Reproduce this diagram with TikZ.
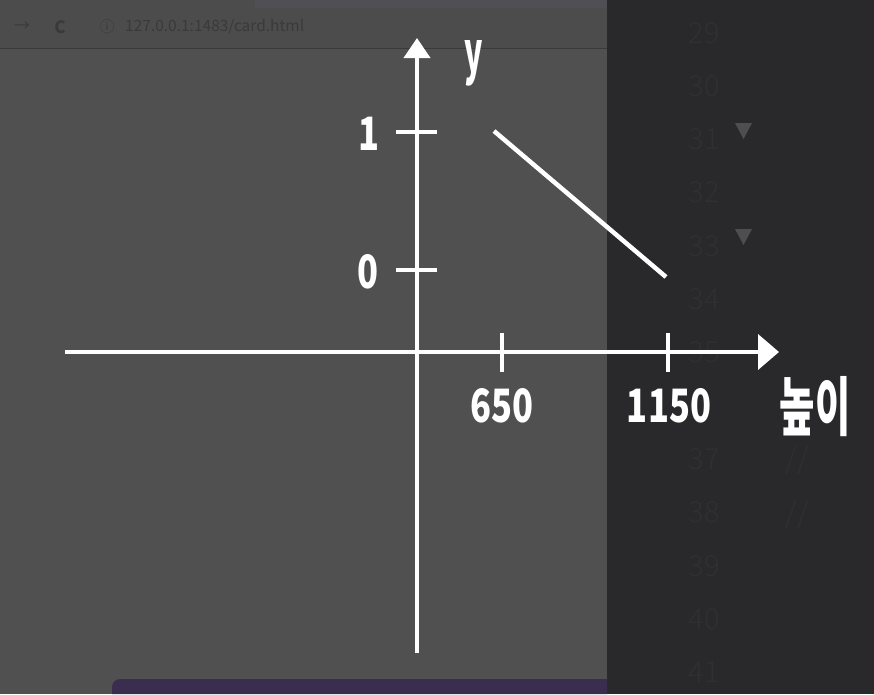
\documentclass[tikz,border=0pt]{standalone}
\usepackage{fontspec}
\setmainfont{Noto Sans CJK KR}
\IfFontExistsTF{Noto Sans CJK KR Light}
  {\newfontfamily\thinfont{Noto Sans CJK KR Light}}
  {\newcommand\thinfont{}}
\usetikzlibrary{arrows.meta}
\definecolor{pagegray}{HTML}{505050}
\definecolor{editorbg}{HTML}{29282B}
\definecolor{browserbar}{HTML}{4C4C4C}
\definecolor{tabstrip}{HTML}{4F4F55}
\definecolor{dimtext}{HTML}{3A3A3A}
\definecolor{linenum}{HTML}{302F33}
\definecolor{foldmark}{HTML}{4E4E50}
\definecolor{purplebar}{HTML}{3A2D4F}
\tikzset{
  axis/.style={white, line width=4pt},
  tickline/.style={white, line width=3.5pt},
  lbl/.style={white, font=\bfseries\fontsize{46}{46}\selectfont, xscale=0.75, inner sep=0pt, anchor=base},
  lnum/.style={linenum, font=\thinfont\fontsize{29}{29}\selectfont, inner sep=0pt, anchor=base},
}
\begin{document}
\begin{tikzpicture}[x=1pt, y=-1pt]
%% Background
\useasboundingbox (0,0) rectangle (874,694);
\fill[pagegray] (0,0) rectangle (607,694);
\fill[editorbg] (607,0) rectangle (874,694);
\fill[browserbar] (0,0) rectangle (607,48);
\fill[tabstrip] (255,0) rectangle (607,8);
\draw[dimtext, line width=1pt] (0,48) -- (607,48);
\fill[purplebar] (112,694) -- (112,687) arc[start angle=180, end angle=90, radius=8pt] -- (607,679) -- (607,694) -- cycle;
%% Browser bar
\node[dimtext, font=\fontsize{16}{16}\selectfont] (back) at (22,27) {→};
\node[dimtext, font=\bfseries\fontsize{17}{17}\selectfont] (reload) at (60,27) {C};
\node[dimtext, font=\fontsize{15}{15}\selectfont] (info) at (107,27) {ⓘ};
\node[dimtext, font=\fontsize{15.5}{15.5}\selectfont, anchor=west, inner sep=0pt] (url) at (125,27) {127.0.0.1:1483/card.html};
%% Line numbers
\foreach \n [count=\i from 0] in {29,...,41}{
  \ifnum\n=36 \else\node[lnum] (ln\n) at (704,{43+53.3*\i}) {\n};\fi
}
\fill[foldmark] (735,123) -- (752,123) -- (743.5,139) -- cycle;
\fill[foldmark] (735,229) -- (752,229) -- (743.5,245) -- cycle;
\node[lnum] (c37) at (797,469) {//};
\node[lnum] (c38) at (797,523) {//};
%% Axes
\coordinate (O) at (417,352);
\coordinate (xl) at (65,352);
\coordinate (xr) at (779,352);
\coordinate (yb) at (417,653);
\coordinate (yt) at (417,38);
\draw[axis, -{Triangle[width=35pt,length=21pt]}] (xl) -- (xr);
\draw[axis, -{Triangle[width=26pt,length=20pt]}] (yb) -- (yt);
%% Ticks
\coordinate (t1l) at (396,132); \coordinate (t1r) at (437,132);
\coordinate (t0l) at (396,270); \coordinate (t0r) at (437,270);
\coordinate (t650b) at (502,333); \coordinate (t650t) at (502,372);
\coordinate (t1150b) at (668,333); \coordinate (t1150t) at (668,372);
\draw[tickline] (t1l) -- (t1r);
\draw[tickline] (t0l) -- (t0r);
\draw[tickline] (t650b) -- (t650t);
\draw[tickline] (t1150b) -- (t1150t);
%% Labels
\node[lbl] (one) at (369,150) {1};
\node[lbl] (zero) at (368,288) {0};
\node[lbl] (l650) at (502,422) {650};
\node[lbl] (l1150) at (669,422) {1150};
\node[lbl, font=\bfseries\fontsize{58}{58}\selectfont, xscale=0.7] (ylab) at (474,73) {y};
\node[lbl, font=\bfseries\fontsize{64}{64}\selectfont, xscale=0.8] (xlab) at (815,430) {높이};
%% Line
\coordinate (p1) at (494,131);
\coordinate (p2) at (666,277);
\draw[white, line width=4.5pt] (p1) -- (p2);
\end{tikzpicture}
\end{document}
